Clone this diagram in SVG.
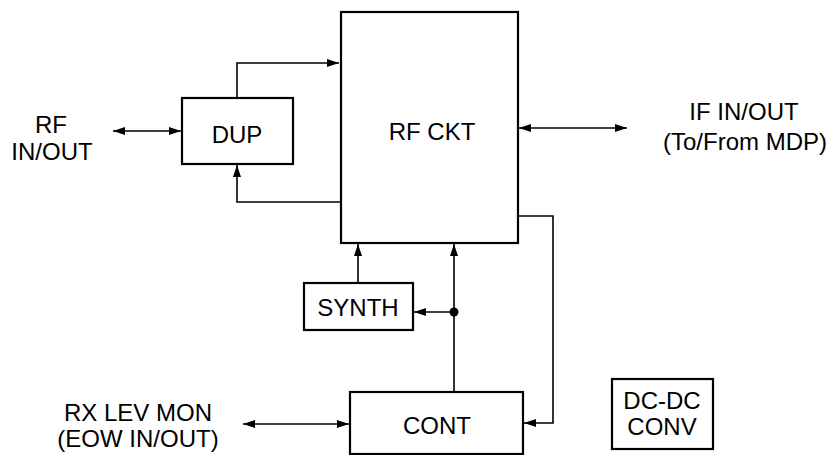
<svg xmlns="http://www.w3.org/2000/svg" width="829" height="455" viewBox="0 0 829 455">
<style>
.box{fill:#fff;stroke:#000;stroke-width:2.2}
.ln{fill:none;stroke:#000;stroke-width:1.6}
text{font-family:"Liberation Sans",Arial,sans-serif;font-size:24px;fill:#000;text-anchor:middle}
</style>
<defs>
<marker id="ah" markerUnits="userSpaceOnUse" markerWidth="14" markerHeight="10" refX="12" refY="5" orient="auto-start-reverse">
<path d="M0,1 L12,5 L0,9 Z" fill="#000"/>
</marker>
</defs>
<rect width="829" height="455" fill="#fff"/>
<g id="connectors">
<line class="ln" x1="113" y1="131" x2="181" y2="131" marker-start="url(#ah)" marker-end="url(#ah)"/>
<polyline class="ln" points="237,98 237,63 339,63" marker-end="url(#ah)"/>
<polyline class="ln" points="340,202 237,202 237,165" marker-end="url(#ah)"/>
<line class="ln" x1="519" y1="128" x2="627" y2="128" marker-start="url(#ah)" marker-end="url(#ah)"/>
<polyline class="ln" points="519,216 553,216 553,423 524,423" marker-end="url(#ah)"/>
<line class="ln" x1="358" y1="283" x2="358" y2="244" marker-end="url(#ah)"/>
<line class="ln" x1="454" y1="392" x2="454" y2="244" marker-end="url(#ah)"/>
<line class="ln" x1="454" y1="312" x2="414" y2="312" marker-end="url(#ah)"/>
<circle cx="454" cy="312" r="4.5" fill="#000"/>
<line class="ln" x1="243" y1="424" x2="349" y2="424" marker-start="url(#ah)" marker-end="url(#ah)"/>
</g>
<g id="rf-ckt">
<rect class="box" x="341" y="12" width="177" height="231"/>
<text x="432" y="140">RF CKT</text>
</g>
<g id="dup">
<rect class="box" x="182" y="98" width="111" height="66"/>
<text x="237" y="143">DUP</text>
</g>
<g id="synth">
<rect class="box" x="304" y="283" width="109" height="47"/>
<text x="358" y="316">SYNTH</text>
</g>
<g id="cont">
<rect class="box" x="350" y="392" width="173" height="62"/>
<text x="437" y="434">CONT</text>
</g>
<g id="dcdc">
<rect class="box" x="612" y="379" width="101" height="70"/>
<text x="662" y="409">DC-DC</text>
<text x="662" y="435">CONV</text>
</g>
<g id="rf-io">
<text x="51" y="133">RF</text>
<text x="52" y="160">IN/OUT</text>
</g>
<g id="if-io">
<text x="744" y="120">IF IN/OUT</text>
<text x="745" y="150">(To/From MDP)</text>
</g>
<g id="rx-lev">
<text x="138" y="421">RX LEV MON</text>
<text x="138" y="447">(EOW IN/OUT)</text>
</g>
</svg>
